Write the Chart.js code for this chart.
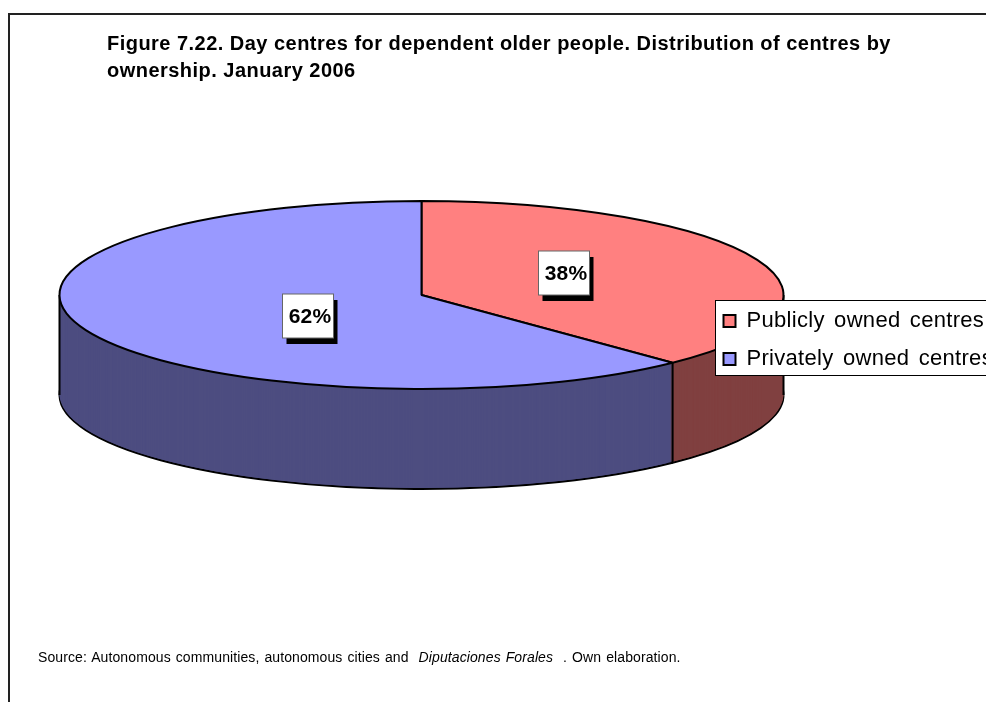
<!DOCTYPE html>
<html>
<head>
    <meta charset="utf-8">
    <title>Figure 7.22</title>
    <script src="https://cdn.jsdelivr.net/npm/chart.js@4"></script>
    <style>
        html, body {
            margin: 0;
            width: 986px;
            height: 702px;
            overflow: hidden;
            background: #fff;
        }
        #chart {
            position: absolute;
            left: 0;
            top: 0;
        }
        #frame {
            position: absolute;
            left: 8px;
            top: 13px;
            width: 990px;
            height: 700px;
            border-left: 2px solid #222;
            border-top: 2px solid #222;
            pointer-events: none;
        }
        #source {
            position: absolute;
            left: 38px;
            top: 649px;
            font: 14px "Liberation Sans", Arial, sans-serif;
            letter-spacing: 0.1px;
            word-spacing: 1px;
            color: #000;
            white-space: pre;
        }
    </style>
</head>
<body>
<canvas id="chart" width="1400" height="702"></canvas>
<div id="frame"></div>
<div id="source">Source: Autonomous communities, autonomous cities and  <i>Diputaciones Forales</i>  . Own elaboration.</div>

<script>
    const categories = ['Publicly owned centres', 'Privately owned centres'];
    const shares = [37.8, 62.2];
    const titleLines = [
        'Figure 7.22. Day centres for dependent older people. Distribution of centres by',
        'ownership. January 2006'
    ];
    const topColors = ['#FF8080', '#9999FF'];
    const wallColors = ['#804040', '#4D4D80'];

    // tilted pie geometry on the page
    const pieX = 421.5, pieY = 295, radiusX = 362, radiusY = 94, pieDepth = 100;
    // centres of the value boxes
    const labelSpots = [[564, 273], [308, 316]];
    const FONT = '"Liberation Sans", Arial, sans-serif';

    function strokeFlat(ctx, fn) {
        // stroke in page pixels so the outline is not squashed by the tilt
        const realStroke = ctx.stroke;
        ctx.stroke = function () {
            ctx.save();
            ctx.setTransform(1, 0, 0, 1, 0, 0);
            realStroke.call(ctx);
            ctx.restore();
        };
        fn();
        delete ctx.stroke;
    }

    function drawPieAt(chart, offsetY, styleFor) {
        const ctx = chart.ctx;
        const arcs = chart.getDatasetMeta(0).data;
        const r = arcs[0].outerRadius;
        const sx = radiusX / r, sy = radiusY / r;
        ctx.save();
        ctx.setTransform(sx, 0, 0, sy, pieX - arcs[0].x * sx, pieY + offsetY - arcs[0].y * sy);
        arcs.forEach((arc, i) => {
            const saved = arc.options;
            arc.options = Object.assign({}, saved, styleFor(i));
            arc.draw(ctx);
            arc.options = saved;
        });
        ctx.restore();
    }

    const tiltedPie = {
        id: 'tiltedPie',
        beforeDraw(chart) {
            chart.ctx.letterSpacing = '0.47px';
        },
        beforeDatasetsDraw(chart) {
            const ctx = chart.ctx;
            const arcs = chart.getDatasetMeta(0).data;
            strokeFlat(ctx, () => {
                drawPieAt(chart, pieDepth, i => ({backgroundColor: wallColors[i], borderColor: '#000', borderWidth: 2}));
                for (let d = pieDepth - 1; d > 0; d--) {
                    drawPieAt(chart, d, i => ({backgroundColor: wallColors[i], borderWidth: 0}));
                }
                // wall edges: both sides of the drum and the seam between slices
                ctx.save();
                ctx.strokeStyle = '#000';
                ctx.lineWidth = 2;
                ctx.beginPath();
                [pieX - radiusX, pieX + radiusX].forEach(x => {
                    ctx.moveTo(x, pieY);
                    ctx.lineTo(x, pieY + pieDepth);
                });
                arcs.forEach(arc => {
                    if (Math.sin(arc.endAngle) > 0) {
                        const x = pieX + radiusX * Math.cos(arc.endAngle);
                        const y = pieY + radiusY * Math.sin(arc.endAngle);
                        ctx.moveTo(x, y);
                        ctx.lineTo(x, y + pieDepth);
                    }
                });
                ctx.stroke();
                ctx.restore();
                drawPieAt(chart, 0, i => ({backgroundColor: topColors[i], borderColor: '#000', borderWidth: 2}));
            });
            return false;
        },
        afterDraw(chart) {
            const ctx = chart.ctx;
            ctx.save();
            // value boxes
            ctx.letterSpacing = '0.2px';
            ctx.font = 'bold 21px ' + FONT;
            ctx.textAlign = 'center';
            ctx.textBaseline = 'middle';
            shares.forEach((v, i) => {
                const [x, y] = labelSpots[i];
                const w = 51, h = 44;
                ctx.fillStyle = '#000';
                ctx.fillRect(x - w / 2 + 4, y - h / 2 + 6, w, h);
                ctx.fillStyle = '#fff';
                ctx.fillRect(x - w / 2, y - h / 2, w, h);
                ctx.strokeStyle = '#666';
                ctx.lineWidth = 1;
                ctx.strokeRect(x - w / 2, y - h / 2, w, h);
                ctx.fillStyle = '#000';
                ctx.fillText(Math.round(v) + '%', x + 2, y + 1);
            });
            // legend sits on top of the pie, moved over from its layout slot
            const legend = chart.legend;
            const first = legend.legendHitBoxes[0];
            ctx.fillStyle = '#fff';
            ctx.strokeStyle = '#000';
            ctx.lineWidth = 1;
            ctx.fillRect(715.5, 300.5, 400, 75);
            ctx.strokeRect(715.5, 300.5, 400, 75);
            ctx.letterSpacing = '0.3px';
            ctx.wordSpacing = '3px';
            ctx.translate(723.5 - first.left, 310 - first.top);
            legend.draw(chart.chartArea);
            ctx.restore();
        }
    };

    new Chart(document.getElementById('chart'), {
        type: 'pie',
        data: {
            labels: categories,
            datasets: [{
                data: shares,
                backgroundColor: topColors,
                borderColor: '#000',
                borderWidth: 2
            }]
        },
        options: {
            responsive: false,
            animation: false,
            layout: {padding: {left: 107, top: 31, bottom: 20}},
            plugins: {
                tooltip: {enabled: false},
                title: {
                    display: true,
                    text: titleLines,
                    align: 'start',
                    color: '#000',
                    font: {family: FONT, size: 20, weight: 'bold', lineHeight: 1.35},
                    padding: 0
                },
                legend: {
                    position: 'right',
                    align: 'start',
                    labels: {
                        color: '#000',
                        font: {family: FONT, size: 22},
                        boxWidth: 12,
                        boxHeight: 12,
                        padding: 16
                    }
                }
            }
        },
        plugins: [tiltedPie]
    });
</script>
</body>
</html>
